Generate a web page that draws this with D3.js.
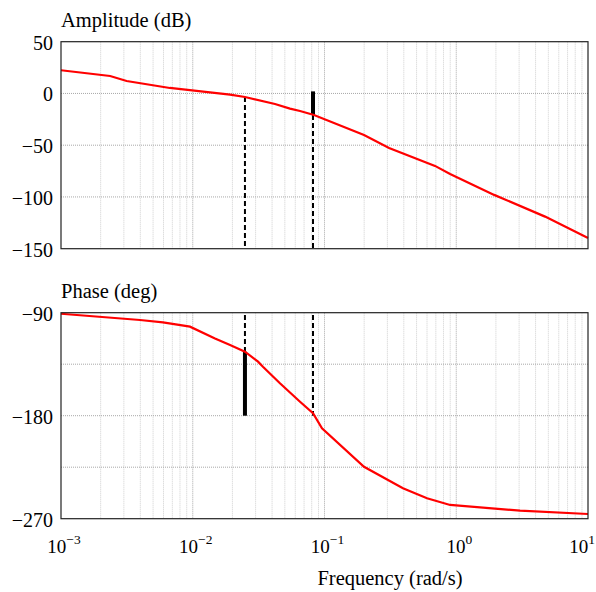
<!DOCTYPE html>
<html>
<head>
<meta charset="utf-8">
<script src="https://cdn.jsdelivr.net/npm/d3@7"></script>
<style>
  body { margin: 0; background: #fff; }
  text { font-family: "Liberation Serif", "DejaVu Serif", serif; fill: #000; }
</style>
</head>
<body>
<div id="chart"></div>
<script>
// amplitude curve
var magFreq = [0.001, 0.00236, 0.00315, 0.0067, 0.0192, 0.0249, 0.0421, 0.0547, 0.0652, 0.0832, 0.1995, 0.309, 0.690, 0.898, 1.94, 4.72, 10];
var magDb   = [22.4, 16.9, 12, 5.3, -1.2, -3.4, -10.2, -14.7, -17, -20.8, -40.1, -52.7, -70, -77.8, -98, -119, -139.7];

// phase curve
var phaseFreq = [0.001, 0.00398, 0.00594, 0.00953, 0.01475, 0.0192, 0.0249, 0.0313, 0.0341, 0.0459, 0.0652, 0.0818, 0.0957, 0.1995, 0.394, 0.600, 0.898, 3.05, 10];
var phaseDeg  = [-90.9, -96.4, -98.4, -102.2, -112.5, -118.2, -124.1, -132.8, -137.2, -151.7, -167.8, -177.9, -191, -224.6, -243.4, -252.2, -258, -263, -265.9];

// margins
var gainCross = 0.0249, magAtGainCross = -3.4, phaseAtGainCross = -124.1;
var phaseCross = 0.0818, magAtPhaseCross = -20.8;

var magTicks = [50, 0, -50, -100, -150];
var magGrid = [0, -50, -100];
var phaseTicks = [-90, -180, -270];
var phaseGrid = [-135, -180, -225];
var decades = [1e-3, 1e-2, 1e-1, 1, 10];
var decadeLabels = ["−3", "−2", "−1", "0", "1"];

var svg = d3.select("#chart").append("svg")
  .attr("width", 596)
  .attr("height", 592);

var x = d3.scaleLog().domain([1e-3, 10]).range([61, 588]);
var yMag = d3.scaleLinear().domain([-150, 50]).range([248.7, 41.7]);
var yPh = d3.scaleLinear().domain([-270, -90]).range([518.7, 312.7]);

function panel(y, gridVals, tickVals, title) {
  var g = svg.append("g");
  var top = y.range()[1], bottom = y.range()[0];

  // vertical grid, minor then decades
  g.selectAll(".vminor")
    .data(x.ticks().filter(function(d){ return decades.indexOf(d) < 0; }))
    .enter().append("line")
    .attr("x1", function(d){ return x(d); })
    .attr("x2", function(d){ return x(d); })
    .attr("y1", top).attr("y2", bottom)
    .attr("stroke", "#cfcfcf")
    .attr("stroke-dasharray", "1,1");

  g.selectAll(".vmajor")
    .data(decades.slice(1, -1))
    .enter().append("line")
    .attr("x1", function(d){ return x(d); })
    .attr("x2", function(d){ return x(d); })
    .attr("y1", top).attr("y2", bottom)
    .attr("stroke", "#a8a8a8")
    .attr("stroke-dasharray", "1,1");

  g.selectAll(".hgrid")
    .data(gridVals)
    .enter().append("line")
    .attr("x1", x.range()[0]).attr("x2", x.range()[1])
    .attr("y1", function(d){ return y(d); })
    .attr("y2", function(d){ return y(d); })
    .attr("stroke", "#a8a8a8")
    .attr("stroke-dasharray", "1,1");

  g.selectAll(".ylab")
    .data(tickVals)
    .enter().append("text")
    .attr("x", 53)
    .attr("y", function(d){ return y(d) + 8; })
    .attr("text-anchor", "end")
    .attr("font-size", 20)
    .text(function(d){ return d < 0 ? "−" + Math.abs(d) : d; });

  g.append("text")
    .attr("x", 61)
    .attr("y", top - 15)
    .attr("font-size", 20.5)
    .text(title);

  return g;
}

var magG = panel(yMag, magGrid, magTicks, "Amplitude (dB)");
var phG = panel(yPh, phaseGrid, phaseTicks, "Phase (deg)");

// margin markers - amplitude panel
magG.append("line")
  .attr("x1", x(gainCross)).attr("x2", x(gainCross))
  .attr("y1", yMag(magAtGainCross)).attr("y2", yMag(-150))
  .attr("stroke", "#000").attr("stroke-width", 2)
  .attr("stroke-dasharray", "5,3");
magG.append("line")
  .attr("x1", x(phaseCross)).attr("x2", x(phaseCross))
  .attr("y1", yMag(magAtPhaseCross)).attr("y2", yMag(-150))
  .attr("stroke", "#000").attr("stroke-width", 2)
  .attr("stroke-dasharray", "5,3");
magG.append("line")
  .attr("x1", x(phaseCross)).attr("x2", x(phaseCross))
  .attr("y1", yMag(2)).attr("y2", yMag(magAtPhaseCross))
  .attr("stroke", "#000").attr("stroke-width", 4);

// margin markers - phase panel
phG.append("line")
  .attr("x1", x(gainCross)).attr("x2", x(gainCross))
  .attr("y1", yPh(-92)).attr("y2", yPh(phaseAtGainCross))
  .attr("stroke", "#000").attr("stroke-width", 2)
  .attr("stroke-dasharray", "5,3");
phG.append("line")
  .attr("x1", x(phaseCross)).attr("x2", x(phaseCross))
  .attr("y1", yPh(-92)).attr("y2", yPh(-180))
  .attr("stroke", "#000").attr("stroke-width", 2)
  .attr("stroke-dasharray", "5,3");
phG.append("line")
  .attr("x1", x(gainCross)).attr("x2", x(gainCross))
  .attr("y1", yPh(phaseAtGainCross)).attr("y2", yPh(-180))
  .attr("stroke", "#000").attr("stroke-width", 4);

// curves
var magLine = d3.line()
  .x(function(d, i){ return x(magFreq[i]); })
  .y(function(d){ return yMag(d); });
magG.append("path")
  .attr("d", magLine(magDb))
  .attr("fill", "none")
  .attr("stroke", "#ff0000")
  .attr("stroke-width", 2.2);

var phLine = d3.line()
  .x(function(d, i){ return x(phaseFreq[i]); })
  .y(function(d){ return yPh(d); });
phG.append("path")
  .attr("d", phLine(phaseDeg))
  .attr("fill", "none")
  .attr("stroke", "#ff0000")
  .attr("stroke-width", 2.2);

// frames
[magG, phG].forEach(function(g, k){
  var y = k == 0 ? yMag : yPh;
  g.append("rect")
    .attr("x", x.range()[0])
    .attr("y", y.range()[1])
    .attr("width", x.range()[1] - x.range()[0])
    .attr("height", y.range()[0] - y.range()[1])
    .attr("fill", "none")
    .attr("stroke", "#222")
    .attr("stroke-width", 1.2);
});

// x labels (last one kept inside the page)
var xl = svg.selectAll(".xlab")
  .data(decades)
  .enter().append("text")
  .attr("x", function(d, i){ return i == decades.length - 1 ? 595 : x(d) + 3; })
  .attr("y", 553)
  .attr("text-anchor", function(d, i){ return i == decades.length - 1 ? "end" : "middle"; })
  .attr("font-size", 19);
xl.append("tspan").text("10");
xl.append("tspan")
  .attr("dy", -9)
  .attr("font-size", 13.5)
  .text(function(d, i){ return decadeLabels[i]; });

svg.append("text")
  .attr("x", 390)
  .attr("y", 585)
  .attr("text-anchor", "middle")
  .attr("font-size", 20.5)
  .text("Frequency (rad/s)");
</script>
</body>
</html>
